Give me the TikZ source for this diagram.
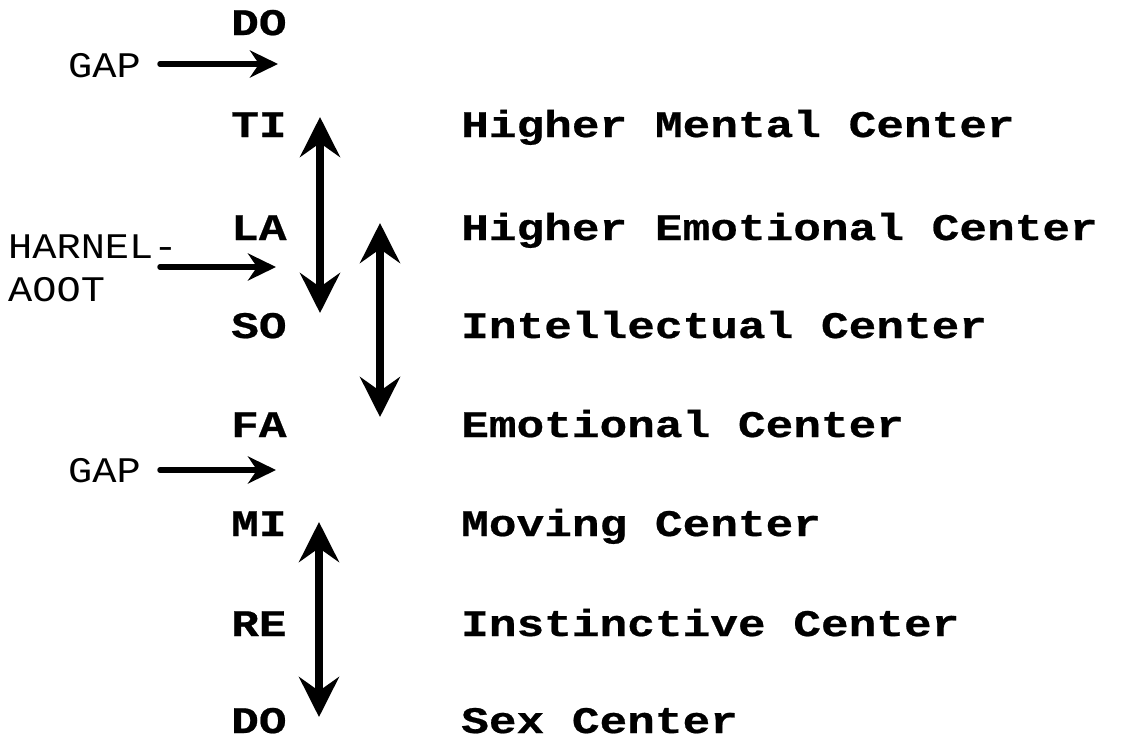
\documentclass[tikz,border=0pt]{standalone}
\usepackage{fontspec}
\setmonofont{Liberation Mono}
\usetikzlibrary{arrows.meta}
\newfontfamily\bmono[FakeStretch=1.23,FakeBold=0.6]{Liberation Mono Bold}
\newfontfamily\rmono[FakeStretch=1.12]{Liberation Mono}
\tikzset{
  note/.style={inner sep=0pt, anchor=base west, font=\bmono\fontsize{37.5}{38}\selectfont},
  side/.style={inner sep=0pt, anchor=base west, font=\rmono\fontsize{36}{38}\selectfont},
  vbig/.style={line width=7.5pt, {Stealth[length=40pt,width=40pt,inset=14pt]}-{Stealth[length=40pt,width=40pt,inset=14pt]}},
  hsmall/.style={line width=5.5pt, line cap=round, -{Stealth[length=28pt,width=27pt,inset=9pt]}}
}
\begin{document}
\begin{tikzpicture}[x=1pt,y=-1pt]
\useasboundingbox (0,0) rectangle (1129,739);
% left column
\node[note] (do1) at (231,35) {DO};
\node[note] (ti) at (231,137) {TI};
\node[note] (la) at (231,240) {LA};
\node[note] (so) at (231,338) {SO};
\node[note] (fa) at (231,437) {FA};
\node[note] (mi) at (231,536) {MI};
\node[note] (re) at (231,636) {RE};
\node[note] (do2) at (231,733) {DO};
% right column
\node[note] (hmc) at (461,137) {Higher Mental Center};
\node[note] (hec) at (461,240) {Higher Emotional Center};
\node[note] (ic) at (461,338) {Intellectual Center};
\node[note] (ec) at (461,437) {Emotional Center};
\node[note] (mc) at (461,536) {Moving Center};
\node[note] (inc) at (461,636) {Instinctive Center};
\node[note] (sc) at (461,733) {Sex Center};
% side labels
\node[side] (gap1) at (68,77) {GAP};
\node[side] (harnel) at (8,258) {HARNEL-};
\node[side] (aoot) at (8,301) {AOOT};
\node[side] (gap2) at (68,482) {GAP};
% coordinates
\coordinate (g1s) at (160,64);
\coordinate (g1e) at (278,64);
\coordinate (hs) at (160,267);
\coordinate (he) at (276,267);
\coordinate (g2s) at (160,470);
\coordinate (g2e) at (276,470);
\coordinate (a1t) at (320,117);
\coordinate (a1b) at (320,313);
\coordinate (a2t) at (380,223);
\coordinate (a2b) at (380,417);
\coordinate (a3t) at (319,522);
\coordinate (a3b) at (319,717);
% arrows
\draw[hsmall] (g1s) -- (g1e);
\draw[hsmall] (hs) -- (he);
\draw[hsmall] (g2s) -- (g2e);
\draw[vbig] (a1t) -- (a1b);
\draw[vbig] (a2t) -- (a2b);
\draw[vbig] (a3t) -- (a3b);
\end{tikzpicture}
\end{document}
